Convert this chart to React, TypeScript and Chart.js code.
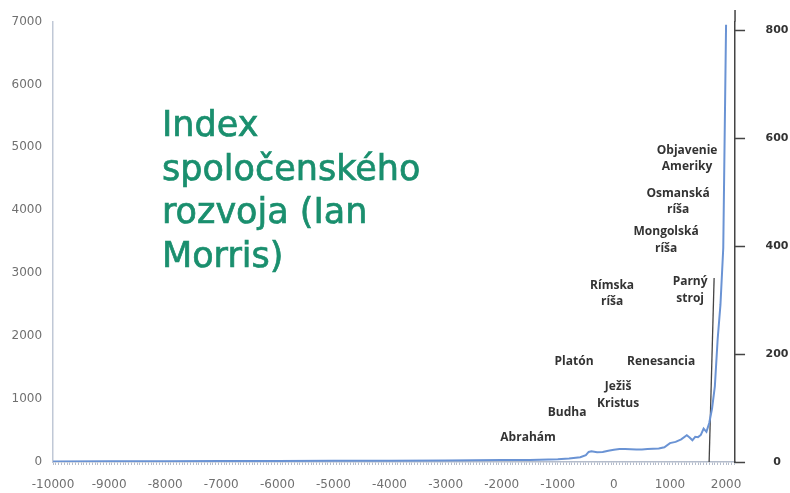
import React, { useEffect, useRef } from "react";
import { Chart, registerables } from "chart.js";

Chart.register(...registerables);

// Social development index (left axis units)
const years = [
  -10000, -9000, -8000, -7000, -6000, -5000, -4000, -3000, -2000, -1500, -1000, -800, -600, -500, -450, -400, -300,
  -200, -100, 0, 100, 200, 300, 400, 500, 600, 700, 800, 900, 1000, 1100, 1200, 1300, 1350, 1400, 1450, 1500, 1550,
  1600, 1650, 1700, 1750, 1800, 1850, 1900, 1950, 2000,
];
const devIndex = [
  8, 10, 12, 14, 16, 18, 20, 25, 30, 32, 45, 55, 75, 110, 160, 170, 155, 160, 180, 195, 205, 205, 203, 200, 200, 205,
  210, 215, 235, 300, 320, 360, 425, 390, 345, 400, 395, 430, 530, 480, 620, 850, 1200, 1950, 2500, 3400, 6950,
];

// Steam engine marker line
const steamYears = [1698, 1787];
const steamValues = [0, 2924];

// Axis ticks
const xTickLabels = [-10000, -9000, -8000, -7000, -6000, -5000, -4000, -3000, -2000, -1000, 0, 1000, 2000];
const leftTicks = [0, 1000, 2000, 3000, 4000, 5000, 6000, 7000];
const rightTicks = [0, 200, 400, 600, 800];

// Event annotations (anchor in year / left-axis value)
const eventLabels = [
  "Objavenie\nAmeriky",
  "Osmanská\nríša",
  "Mongolská\nríša",
  "Rímska\nríša",
  "Parný\nstroj",
  "Platón",
  "Renesancia",
  "Ježiš\nKristus",
  "Budha",
  "Abrahám",
];
const eventYears = [1305, 1145, 931, -32, 1359, -710, 842, 75, -835, -1530];
const eventValues = [4823, 4139, 3528, 2677, 2733, 1589, 1589, 1065, 779, 381];

const titleLines = ["Index", "spoločenského", "rozvoja (Ian", "Morris)"];

export default function App() {
  const ref = useRef<HTMLCanvasElement | null>(null);

  useEffect(() => {
    if (!ref.current) return;

    const textPlugin = {
      id: "texts",
      afterDatasetsDraw(chart: any) {
        const ctx = chart.ctx;
        const xs = chart.scales.x;
        const ys = chart.scales.y;
        const y2 = chart.scales.y2;
        const area = chart.chartArea;
        ctx.save();
        // right axis: extend line upward and draw its tick marks
        ctx.strokeStyle = "#444";
        ctx.lineWidth = 1.5;
        ctx.beginPath();
        ctx.moveTo(area.right, 10);
        ctx.lineTo(area.right, area.top);
        rightTicks.forEach((v) => {
          const py = Math.round(y2.getPixelForValue(v)) + 0.5;
          ctx.moveTo(area.right, py);
          ctx.lineTo(area.right + 10, py);
        });
        ctx.stroke();

        // title
        ctx.fillStyle = "#1a8f6e";
        ctx.strokeStyle = "#1a8f6e";
        ctx.lineWidth = 0.7;
        ctx.font = '35px "DejaVu Sans"';
        ctx.textAlign = "left";
        ctx.textBaseline = "middle";
        titleLines.forEach((t, i) => {
          ctx.fillText(t, 162, 127 + i * 43.7);
          ctx.strokeText(t, 162, 127 + i * 43.7);
        });

        // event labels
        ctx.fillStyle = "#333";
        ctx.font = 'bold 12px "Open Sans"';
        ctx.textAlign = "center";
        eventLabels.forEach((lab, i) => {
          const cx = xs.getPixelForValue(eventYears[i]);
          const cy = ys.getPixelForValue(eventValues[i]);
          const lines = lab.split("\n");
          const lh = 16.5;
          const y0 = cy - ((lines.length - 1) * lh) / 2;
          lines.forEach((ln, j) => ctx.fillText(ln, cx, y0 + j * lh));
        });
        ctx.restore();
      },
    };

    const chart = new Chart(ref.current, {
      type: "line",
      data: {
        datasets: [
          {
            label: "Index",
            data: years.map((x, i) => ({ x, y: devIndex[i] })),
            yAxisID: "y",
            borderColor: "#6a93d4",
            borderWidth: 2,
            pointRadius: 0,
            tension: 0,
          },
          {
            label: "Parný stroj",
            data: steamYears.map((x, i) => ({ x, y: steamValues[i] })),
            yAxisID: "y",
            borderColor: "#444",
            borderWidth: 1.3,
            pointRadius: 0,
          },
        ],
      },
      options: {
        responsive: false,
        animation: false,
        layout: { padding: { left: 0.5, right: 1.5, top: 21.5, bottom: -12.4 } },
        plugins: { legend: { display: false }, tooltip: { enabled: false } },
        scales: {
          x: {
            type: "linear",
            position: "bottom",
            min: -10000,
            max: 2160,
            ticks: {
              stepSize: 50,
              autoSkip: false,
              maxRotation: 0,
              minRotation: 0,
              includeBounds: false,
              padding: 13,
              color: "#707070",
              font: { family: "DejaVu Sans", size: 12 },
              callback: (v: any) => (xTickLabels.includes(Number(v)) ? String(v) : ""),
            },
            grid: { drawOnChartArea: false, drawTicks: true, tickLength: 3, color: "#b4bccb" },
            border: { color: "#b4bccb", width: 1.5 },
          },
          y: {
            position: "left",
            min: 0,
            max: 7000,
            afterBuildTicks: (s: any) => {
              s.ticks = leftTicks.map((v) => ({ value: v }));
            },
            ticks: {
              padding: 11,
              color: "#707070",
              font: { family: "DejaVu Sans", size: 12 },
              callback: (v: any) => String(v),
            },
            grid: { display: true, drawOnChartArea: false, drawTicks: false },
            border: { color: "#c0c8d6", width: 1.5 },
          },
          y2: {
            position: "right",
            min: 0,
            max: 815.7,
            afterBuildTicks: (s: any) => {
              s.ticks = rightTicks.map((v) => ({ value: v }));
            },
            ticks: {
              padding: 0,
              crossAlign: "center",
              color: "#333",
              font: { family: "DejaVu Sans", size: 11, weight: "bold" },
              callback: (v: any) => String(v),
            },
            grid: {
              drawOnChartArea: false,
              drawTicks: true,
              tickLength: 30.5,
              color: "rgba(0,0,0,0)",
            },
            border: { color: "#444", width: 1.5 },
          },
        },
      },
      plugins: [textPlugin],
    } as any);

    return () => chart.destroy();
  }, []);

  return (
    <div style={{ position: "absolute", left: 0, top: 0, width: 790, height: 493, background: "#fff" }}>
      <canvas ref={ref} width={790} height={493} style={{ width: 790, height: 493 }} />
    </div>
  );
}
